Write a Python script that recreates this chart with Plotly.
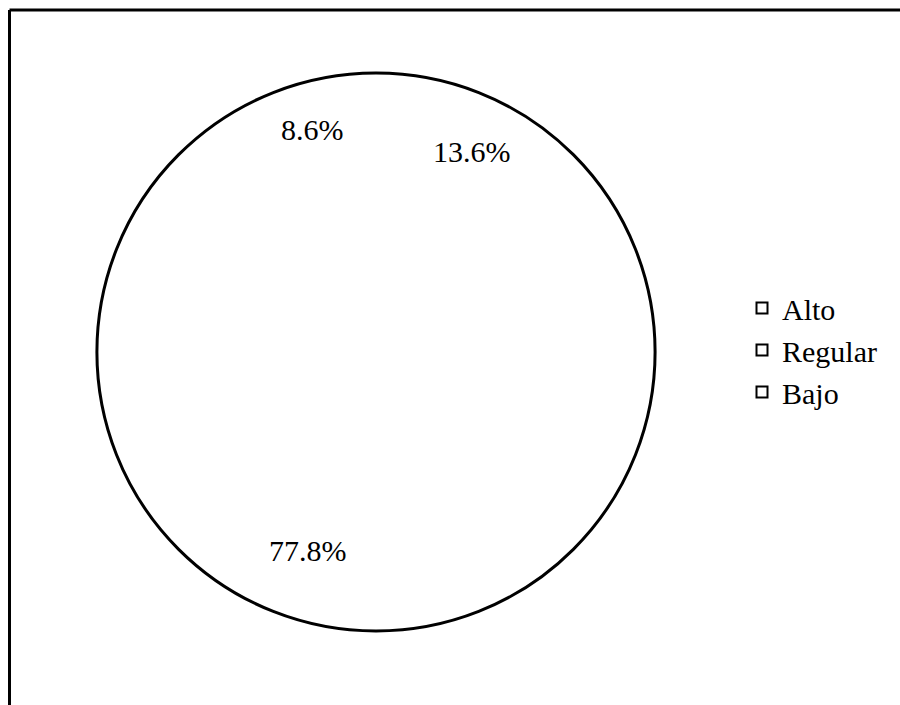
import math
import plotly.graph_objects as go

categories = ["Alto", "Regular", "Bajo"]
percentages = [8.6, 13.6, 77.8]
label_texts = ["8.6%", "13.6%", "77.8%"]

W, H = 900, 705
cx, cy, r = 376, 352, 279
dom_x = [(cx - r) / W, (cx + r) / W]
dom_y = [1 - (cy + r) / H, 1 - (cy - r) / H]

total = sum(percentages)
rotation = -360.0 * percentages[0] / total

# small pixel nudges for label placement (layout styling, not data)
label_nudge = [(-5, -10), (5, 0), (-34, -19)]

fig = go.Figure()

# slices (white, no borders)
fig.add_trace(go.Pie(
    labels=categories, values=percentages, sort=False, direction="clockwise",
    rotation=rotation, marker=dict(colors=["white"] * 3, line=dict(width=0)),
    textinfo="none", hoverinfo="label+percent", showlegend=False,
    domain=dict(x=dom_x, y=dom_y),
))
# outer outline
fig.add_trace(go.Pie(
    labels=["total"], values=[total], sort=False,
    marker=dict(colors=["rgba(0,0,0,0)"], line=dict(color="black", width=3)),
    textinfo="none", hoverinfo="skip", showlegend=False,
    domain=dict(x=dom_x, y=dom_y),
))

# legend entries
for c in categories:
    fig.add_trace(go.Scatter(
        x=[None], y=[None], mode="markers", name=c,
        marker=dict(symbol="square", size=11, color="white",
                    line=dict(color="black", width=2)),
    ))

# percentage labels placed along slice bisectors
annotations = []
cum = 0.0
frac = 0.79
for p, t, (nx, ny) in zip(percentages, label_texts, label_nudge):
    mid = rotation + 360.0 * (cum + p / 2) / total
    cum += p
    a = math.radians(mid)
    px = cx + frac * r * math.sin(a) + nx
    py = cy - frac * r * math.cos(a) + ny
    annotations.append(dict(
        x=px / W, y=1 - py / H, xref="paper", yref="paper", text=t,
        showarrow=False, font=dict(size=30, color="black", family="Liberation Serif"),
        xanchor="center", yanchor="middle",
    ))

shapes = [
    dict(type="line", xref="paper", yref="paper", x0=9.5 / W, x1=1.01,
         y0=1 - 10 / H, y1=1 - 10 / H, line=dict(color="black", width=3)),
    dict(type="line", xref="paper", yref="paper", x0=9.5 / W, x1=9.5 / W,
         y0=1 - 10 / H, y1=-0.01, line=dict(color="black", width=3)),
]

fig.update_layout(
    width=W, height=H, margin=dict(l=0, r=0, t=0, b=0),
    paper_bgcolor="white", plot_bgcolor="white",
    font=dict(family="Liberation Serif", color="black", size=30),
    xaxis=dict(visible=False), yaxis=dict(visible=False),
    legend=dict(x=742 / W, y=1 - 350 / H, xanchor="left", yanchor="middle",
                font=dict(size=30, family="Liberation Serif", color="black"),
                bgcolor="rgba(0,0,0,0)", tracegroupgap=0, itemwidth=30),
    annotations=annotations, shapes=shapes, showlegend=True,
)

fig.write_html("out.html")
